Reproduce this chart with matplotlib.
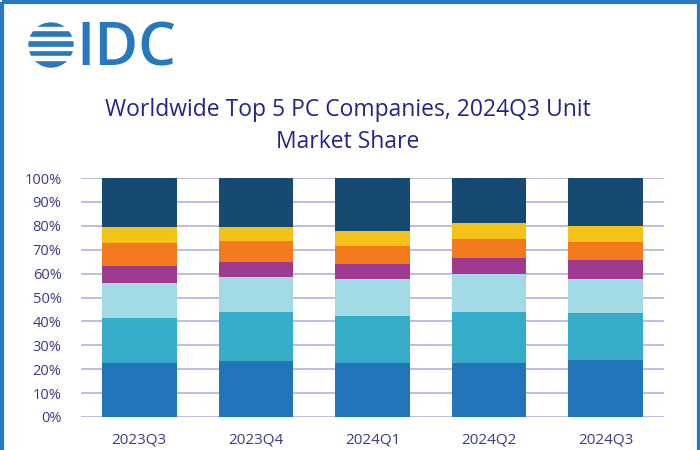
import numpy as np
import matplotlib
matplotlib.use("Agg")
from matplotlib import pyplot as plt
from matplotlib.patches import Circle, Rectangle

quarters = ['2023Q3', '2023Q4', '2024Q1', '2024Q2', '2024Q3']
lenovo = [22.4, 23.5, 22.7, 22.7, 23.7]
hp     = [19.1, 20.5, 19.7, 21.3, 19.7]
dell   = [14.7, 14.7, 15.5, 15.7, 14.2]
apple  = [7.0, 6.2, 6.2, 6.7, 8.0]
asus   = [9.8, 8.8, 7.6, 8.0, 7.8]
acer   = [6.4, 5.7, 6.3, 6.7, 6.7]
others = [20.6, 20.6, 22.0, 18.9, 19.9]

series = [lenovo, hp, dell, apple, asus, acer, others]
colors = ['#2474BA', '#35ADC8', '#A2DAE6', '#9E3A90', '#F47A20', '#F5C21A', '#174A70']

fig = plt.figure(figsize=(7, 4.5), dpi=100)
plt.rcParams['font.family'] = ['Open Sans', 'DejaVu Sans']

ax = fig.add_axes([81/700, 1-417/450, 583/700, 239/450])
x = np.arange(len(quarters))
bottom = np.zeros(len(quarters))
for vals, c in zip(series, colors):
    v = np.array(vals)
    ax.bar(x, v, 0.64, bottom=bottom, color=c, zorder=3)
    bottom += v

ax.set_xlim(-0.5, 4.5)
ax.set_ylim(0, 100)
ax.set_yticks(np.arange(0, 101, 10))
ax.set_yticklabels([f'{t}%' for t in range(0, 101, 10)])
ax.set_xticks(x)
ax.set_xticklabels(quarters)
ax.grid(axis='y', color='#B0B0E2', linewidth=1.2, zorder=0)
for s in ax.spines.values():
    s.set_visible(False)
ax.tick_params(axis='both', length=0, labelcolor='#3B3B8A')
ax.tick_params(axis='y', pad=14, labelsize=10.5)
ax.tick_params(axis='x', pad=11, labelsize=11)

fig.text(0.497, 1-126/450, 'Worldwide Top 5 PC Companies, 2024Q3 Unit\nMarket Share',
         ha='center', va='center', fontsize=16.5, color='#24248A', linespacing=1.5)

# logo
lax = fig.add_axes([0, 0, 1, 1], zorder=-1)
lax.set_xlim(0, 700)
lax.set_ylim(450, 0)
lax.axis('off')
logo_blue = '#2878C0'
lax.add_patch(Circle((51, 45), 22, color=logo_blue))
for yy in [28.5, 38.5, 48.5, 58]:
    lax.add_patch(Rectangle((26, yy - 1.6), 52, 3.2, color='white'))
lax.text(76, 50, 'IDC', fontsize=43, color=logo_blue, va='center', ha='left',
         fontweight='semibold', family=['Open Sans', 'DejaVu Sans'])

# border
lax.add_patch(Rectangle((1.5, 1.5), 697, 460, fill=False, edgecolor=logo_blue, linewidth=3))

fig.savefig('out.png', dpi=100)
